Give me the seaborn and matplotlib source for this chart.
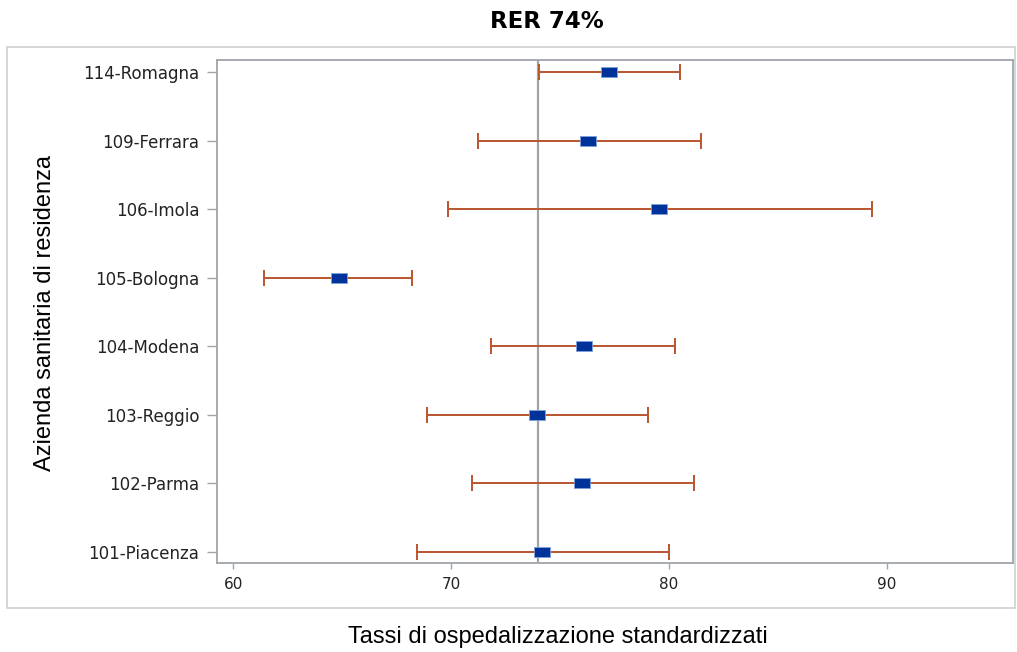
import numpy as np
import pandas as pd
import matplotlib
matplotlib.use("Agg")
import matplotlib.pyplot as plt
from matplotlib.patches import Rectangle
import seaborn as sns

aziende = ["114-Romagna", "109-Ferrara", "106-Imola", "105-Bologna",
           "104-Modena", "103-Reggio", "102-Parma", "101-Piacenza"]
tasso = [77.26, 76.30, 79.55, 64.84, 76.09, 73.96, 76.01, 74.17]
lim_inf = [74.02, 71.24, 69.84, 61.40, 71.83, 68.89, 70.95, 68.45]
lim_sup = [80.51, 81.46, 89.32, 68.22, 80.28, 79.03, 81.15, 79.99]
rer = 74.0
x_ticks = [60, 70, 80, 90]

df = pd.DataFrame({"azienda": aziende, "tasso": tasso,
                   "inf": lim_inf, "sup": lim_sup})
df["pos"] = np.arange(len(df))

sns.set_style("white")
plt.rcParams["font.family"] = ["DejaVu Sans"]
plt.rcParams["text.color"] = "black"

fig = plt.figure(figsize=(10.17, 6.52), dpi=100)
ax = fig.add_axes([0.2137, 0.136, 0.9958 - 0.2137, 0.908 - 0.136])

# outer frame of the graph
fig.patches.append(Rectangle((7 / 1017, 1 - 608 / 652), 1008 / 1017, 561 / 652,
                             transform=fig.transFigure, fill=False,
                             edgecolor="#d0d0d0", lw=1.2))

ax.axvline(rer, color="#a0a4a8", lw=1.6, zorder=1)

xerr = np.vstack([df["tasso"] - df["inf"], df["sup"] - df["tasso"]])
ax.errorbar(df["tasso"], df["pos"], xerr=xerr, fmt="none",
            ecolor="#bb5530", elinewidth=1.4, capsize=6, capthick=1.4, zorder=2)

rect = [(-1, -0.72), (1, -0.72), (1, 0.72), (-1, 0.72), (-1, -0.72)]
sns.scatterplot(data=df, x="tasso", y="pos", marker=rect, s=120,
                color="#003399", edgecolor="#7f9fd9", linewidth=0.6,
                zorder=3, ax=ax, legend=False)

ax.set_xlim(59.27, 95.78)
ax.set_ylim(len(df) - 1 + 0.165, -0.175)
ax.set_xticks(x_ticks)
ax.set_yticks(df["pos"])
ax.set_yticklabels(df["azienda"])
ax.tick_params(axis="y", length=7, width=1, color="#a0a4a8", pad=6,
               labelsize=12, labelcolor="#222222", left=True)
ax.tick_params(axis="x", length=4, width=1, color="#a0a4a8", pad=6,
               labelsize=11, labelcolor="#222222", bottom=True)
for s in ax.spines.values():
    s.set_color("#a0a4a8")
    s.set_linewidth(1.3)

ax.set_xlabel("")
ax.set_ylabel("")
fig.text(547 / 1017, 1 - 22 / 652, "RER 74%", ha="center", va="center",
         fontsize=16.5, fontweight="bold")
fig.text(558 / 1017, 1 - 637 / 652, "Tassi di ospedalizzazione standardizzati",
         ha="center", va="center", fontsize=17, family="Liberation Sans")
fig.text(45 / 1017, 1 - 313 / 652, "Azienda sanitaria di residenza",
         ha="center", va="center", rotation=90, fontsize=17,
         family="Liberation Sans")

fig.savefig("out.png", dpi=100)
